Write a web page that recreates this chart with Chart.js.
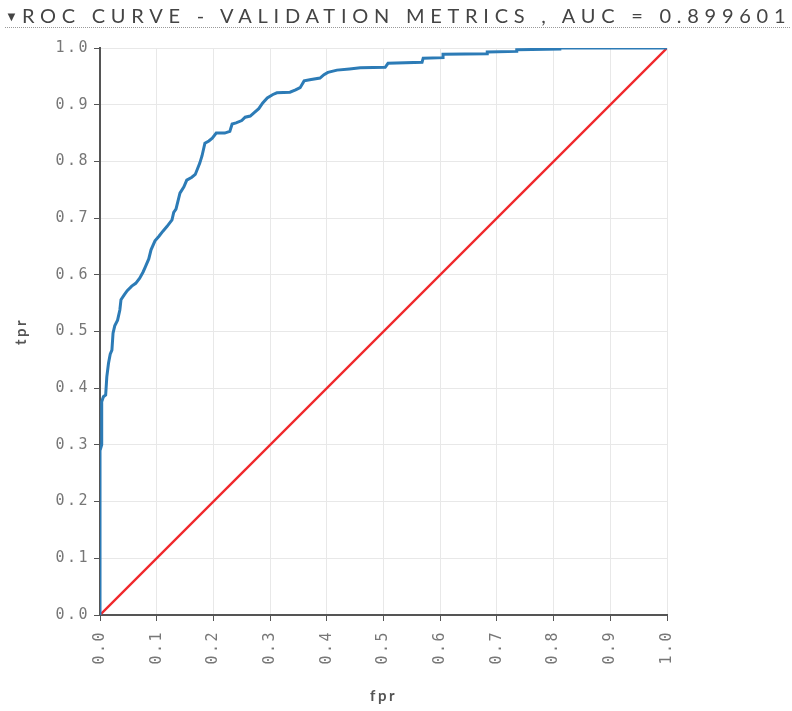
<!DOCTYPE html>
<html>
<head>
<meta charset="utf-8">
<script src="https://cdn.jsdelivr.net/npm/chart.js@4/dist/chart.umd.min.js"></script>
<style>
  body { margin: 0; background: #fff; }
  #wrap { position: relative; width: 792px; height: 711px; }
  #head {
    position: absolute; left: 5px; top: 3px; width: 785px; height: 24px;
    border-bottom: 1px dotted #9a9a9a;
    font-family: Lato, "Open Sans", sans-serif; font-size: 20px; letter-spacing: 5.75px;
    color: #444; white-space: nowrap; line-height: 24px;
  }
  #head .arrow { font-size: 13px; letter-spacing: 4px; vertical-align: 2px; }
  #rocChart { position: absolute; left: 0; top: 0; }
</style>
</head>
<body>
<div id="wrap">
  <canvas id="rocChart" width="792" height="711"></canvas>
  <div id="head"><span class="arrow">&#9660;</span>ROC CURVE - VALIDATION METRICS , AUC = 0.899601</div>
</div>
<script>
// roc curve (validation set), corners of the staircase
var fpr = [0.000, 0.000, 0.003, 0.003, 0.006, 0.010, 0.012, 0.015, 0.018, 0.021,
           0.023, 0.026, 0.031, 0.035, 0.037, 0.043, 0.048, 0.056, 0.063, 0.070,
           0.076, 0.080, 0.086, 0.090, 0.097, 0.104, 0.111, 0.118, 0.127, 0.130,
           0.134, 0.141, 0.148, 0.153, 0.162, 0.168, 0.176, 0.180, 0.185, 0.192,
           0.198, 0.205, 0.220, 0.229, 0.233, 0.240, 0.250, 0.256, 0.265, 0.273,
           0.280, 0.287, 0.295, 0.305, 0.312, 0.335, 0.345, 0.353, 0.360, 0.370,
           0.388, 0.395, 0.402, 0.418, 0.440, 0.459, 0.503, 0.508, 0.568, 0.570,
           0.605, 0.605, 0.683, 0.683, 0.735, 0.735, 0.811, 0.811, 1.000];
var tpr = [0.000, 0.290, 0.300, 0.376, 0.385, 0.388, 0.420, 0.444, 0.460, 0.467,
           0.497, 0.510, 0.520, 0.538, 0.556, 0.565, 0.572, 0.580, 0.585, 0.594,
           0.605, 0.614, 0.628, 0.644, 0.660, 0.668, 0.677, 0.685, 0.697, 0.710,
           0.716, 0.744, 0.755, 0.767, 0.772, 0.777, 0.797, 0.810, 0.832, 0.836,
           0.841, 0.850, 0.850, 0.853, 0.866, 0.868, 0.872, 0.878, 0.880, 0.887,
           0.893, 0.903, 0.912, 0.918, 0.921, 0.922, 0.926, 0.930, 0.942, 0.944,
           0.947, 0.953, 0.957, 0.961, 0.963, 0.965, 0.966, 0.973, 0.975, 0.982,
           0.983, 0.989, 0.990, 0.993, 0.994, 0.997, 0.998, 1.000, 1.000];
// chance line
var diagX = [0, 1];
var diagY = [0, 1];
var tickVals = [0, 0.1, 0.2, 0.3, 0.4, 0.5, 0.6, 0.7, 0.8, 0.9, 1.0];

function toPoints(xs, ys) {
    var pts = [];
    for (var i = 0; i < xs.length; i++) {
        pts.push({x: xs[i], y: ys[i]});
    }
    return pts;
}

// spaced-out tick text like the rest of the page
var spacing = {
    id: 'spacing',
    beforeLayout: function(chart) { chart.ctx.letterSpacing = '2.5px'; },
    beforeDraw: function(chart) { chart.ctx.letterSpacing = '2.5px'; }
};

var axisFont = {family: '"DejaVu Sans Mono", monospace', size: 15};
var titleFont = {family: 'Lato, sans-serif', size: 15, weight: 'bold'};

var ctx = document.getElementById('rocChart').getContext('2d');
var myChart = new Chart(ctx, {
    type: 'scatter',
    data: {
        datasets: [{
            label: 'roc',
            data: toPoints(fpr, tpr),
            showLine: true,
            borderColor: '#2c7bb6',
            borderWidth: 3,
            pointRadius: 0,
            fill: false
        }, {
            label: 'random',
            data: toPoints(diagX, diagY),
            showLine: true,
            borderColor: '#f0282c',
            borderWidth: 2.3,
            pointRadius: 0,
            fill: false
        }]
    },
    options: {
        responsive: false,
        animation: false,
        layout: {padding: {left: 0, top: 48, right: 125, bottom: 0}},
        plugins: {legend: {display: false}, tooltip: {enabled: false}},
        scales: {
            x: {
                type: 'linear', min: 0, max: 1,
                afterFit: function(scale) { scale.height = 96; },
                afterBuildTicks: function(scale) {
                    scale.ticks = tickVals.map(function(v) { return {value: v}; });
                },
                ticks: {
                    color: '#777', font: axisFont, padding: 9,
                    minRotation: 90, maxRotation: 90, autoSkip: false,
                    callback: function(v) { return v.toFixed(1); }
                },
                grid: {color: '#e8e8e8', tickColor: '#555', tickLength: 6},
                border: {color: '#555', width: 2},
                title: {display: true, text: 'fpr', color: '#555', font: titleFont, padding: {top: 0, bottom: 6}}
            },
            y: {
                type: 'linear', min: 0, max: 1,
                afterFit: function(scale) { scale.width = 100; },
                afterBuildTicks: function(scale) {
                    scale.ticks = tickVals.map(function(v) { return {value: v}; });
                },
                ticks: {
                    color: '#777', font: axisFont, padding: 4, autoSkip: false,
                    callback: function(v) { return v.toFixed(1); }
                },
                grid: {color: '#e8e8e8', tickColor: '#555', tickLength: 6},
                border: {color: '#555', width: 2},
                title: {display: true, text: 'tpr', color: '#555', font: titleFont, padding: {top: 12, bottom: 0}}
            }
        }
    },
    plugins: [spacing]
});
</script>
</body>
</html>
